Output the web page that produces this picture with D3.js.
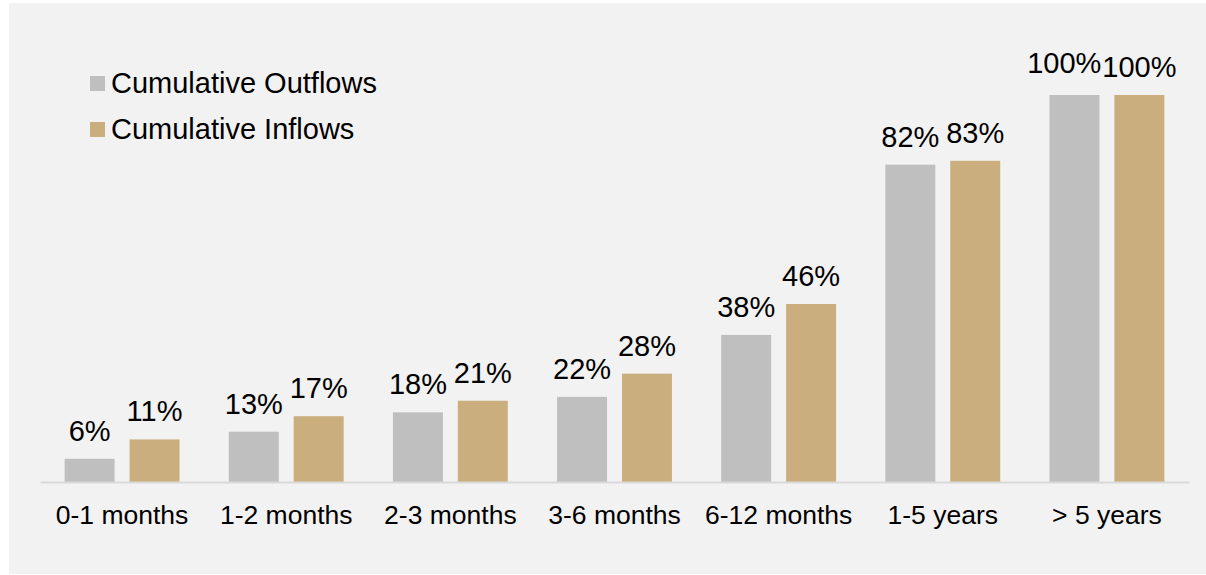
<!DOCTYPE html>
<html>
<head>
<meta charset="utf-8">
<script src="https://cdn.jsdelivr.net/npm/d3@7"></script>
<style>
  body { margin: 0; background: #fff; }
  text { font-family: "Liberation Sans", Arial, sans-serif; fill: #000; }
</style>
</head>
<body>
<script>
var categories = ['0-1 months', '1-2 months', '2-3 months', '3-6 months', '6-12 months', '1-5 years', '> 5 years'];
var series = ['Cumulative Outflows', 'Cumulative Inflows'];
var outflows = [0.06, 0.13, 0.18, 0.22, 0.38, 0.82, 1.00];
var inflows = [0.11, 0.17, 0.21, 0.28, 0.46, 0.83, 1.00];
var colors = ['#bfbfbf', '#cbae7d'];

var width = 1206, height = 575;

var svg = d3.select('body').append('svg')
    .attr('width', width)
    .attr('height', height);

// panel background
svg.append('rect')
    .attr('x', 9)
    .attr('y', 3)
    .attr('width', width - 9)
    .attr('height', 571)
    .attr('fill', '#f2f2f2');

var x0 = d3.scaleBand()
    .domain(categories)
    .range([40, 1189])
    .paddingInner(0.3)
    .paddingOuter(0.15);

var x1 = d3.scaleBand()
    .domain(series)
    .range([0, x0.bandwidth()])
    .paddingInner(0.23);

var y = d3.scaleLinear()
    .domain([0, 1])
    .range([482, 95]);

var rows = categories.map(function(c, i) {
    return { cat: c, vals: [outflows[i], inflows[i]] };
});

var groups = svg.selectAll('g.grp')
    .data(rows)
    .enter().append('g')
    .attr('class', 'grp')
    .attr('transform', function(d) { return 'translate(' + x0(d.cat) + ',0)'; });

var cells = groups.selectAll('g.cell')
    .data(function(d) { return d.vals.map(function(v, j) { return { s: series[j], v: v, j: j }; }); })
    .enter().append('g')
    .attr('class', 'cell');

cells.append('rect')
    .attr('x', function(d) { return x1(d.s); })
    .attr('y', function(d) { return y(d.v); })
    .attr('width', x1.bandwidth())
    .attr('height', function(d) { return y(0) - y(d.v); })
    .attr('fill', function(d) { return colors[d.j]; });

cells.append('text')
    .attr('class', 'lbl')
    .attr('x', function(d) { return x1(d.s) + x1.bandwidth() / 2; })
    .attr('y', function(d) { return y(d.v) - 18; })
    .attr('text-anchor', 'middle')
    .style('font-size', '29px')
    .text(function(d) { return d3.format('.0%')(d.v); });

// nudge the first label left/up when the pair would collide
groups.each(function() {
    var lbls = d3.select(this).selectAll('text.lbl').nodes();
    var a = lbls[0].getBBox(), b = lbls[1].getBBox();
    var overlap = a.x + a.width + 1 - b.x;
    if (overlap > 0) {
        d3.select(lbls[0])
            .attr('x', +lbls[0].getAttribute('x') - overlap)
            .attr('y', +lbls[0].getAttribute('y') - 4);
    }
});

// x axis
var xAxis = svg.append('g')
    .attr('transform', 'translate(0,' + y(0) + ')')
    .call(d3.axisBottom(x0).tickSize(0).tickPadding(0));

xAxis.select('.domain')
    .attr('stroke', '#d9d9d9')
    .attr('stroke-width', 2);

xAxis.selectAll('.tick text')
    .attr('dy', 0)
    .attr('y', 42)
    .style('font-size', '26.5px')
    .style('font-family', '"Liberation Sans", Arial, sans-serif')
    .attr('fill', '#000');

// legend
var legend = svg.selectAll('g.leg')
    .data(series)
    .enter().append('g')
    .attr('class', 'leg')
    .attr('transform', function(d, i) { return 'translate(90,' + (76 + i * 46) + ')'; });

legend.append('rect')
    .attr('width', 15)
    .attr('height', 15)
    .attr('fill', function(d, i) { return colors[i]; });

legend.append('text')
    .attr('x', 21)
    .attr('y', 17)
    .style('font-size', '29px')
    .text(function(d) { return d; });
</script>
</body>
</html>
